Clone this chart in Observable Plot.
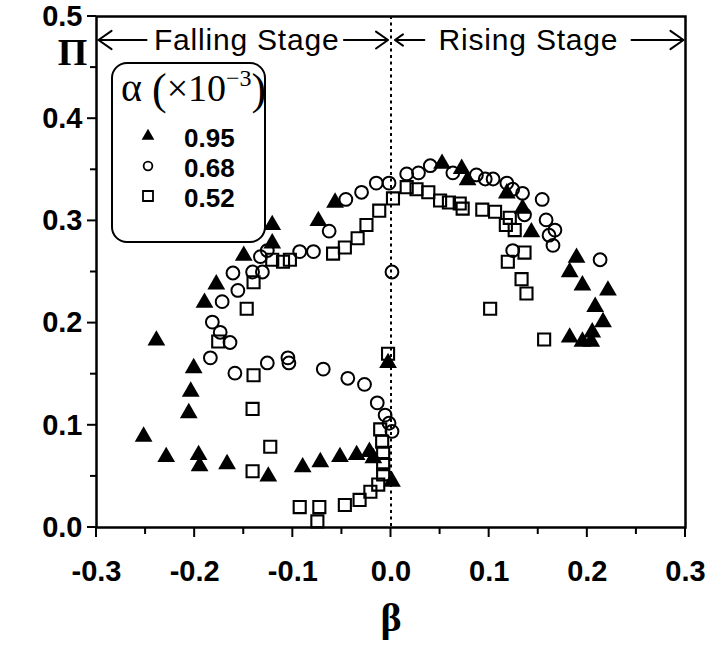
<!DOCTYPE html>
<html><head><meta charset="utf-8">
<script src="https://cdn.jsdelivr.net/npm/d3@7"></script>
<script src="https://cdn.jsdelivr.net/npm/@observablehq/plot@0.6"></script>
<style>
body{margin:0;background:#fff}
#wrap{position:relative;width:709px;height:650px}
#legend{position:absolute;left:0;top:0;pointer-events:none}
</style>
</head><body><div id="wrap"></div>
<script>
// ---- data: alpha = 0.95e-3 (filled triangles)
const a095Beta = [-0.252,-0.239,-0.229,-0.201,-0.204,-0.206,-0.196,-0.195,-0.167,-0.125,-0.090,-0.072,-0.052,-0.035,-0.022,-0.018,0.001,-0.003,-0.190,-0.178,-0.150,-0.121,-0.121,-0.074,-0.057,0.052,0.072,0.078,0.118,0.134,0.143,0.189,0.182,0.195,0.221,0.208,0.216,0.205,0.182,0.195,0.204];
const a095Pi   = [0.089,0.183,0.069,0.156,0.133,0.112,0.071,0.060,0.062,0.050,0.059,0.064,0.069,0.071,0.074,0.068,0.045,0.161,0.220,0.238,0.266,0.278,0.296,0.300,0.318,0.356,0.351,0.340,0.327,0.312,0.289,0.264,0.250,0.237,0.232,0.216,0.201,0.191,0.186,0.182,0.182];
// alpha = 0.68e-3 (open circles)
const a068Beta = [-0.184,-0.159,-0.126,-0.105,-0.104,-0.069,-0.044,-0.027,-0.014,-0.006,-0.002,0.001,0.001,-0.182,-0.174,-0.164,-0.172,-0.156,-0.161,-0.141,-0.131,-0.133,-0.126,-0.093,-0.079,-0.063,-0.046,-0.030,-0.015,-0.002,0.016,0.028,0.040,0.063,0.087,0.096,0.104,0.118,0.124,0.134,0.154,0.136,0.158,0.167,0.161,0.165,0.124,0.213];
const a068Pi   = [0.166,0.151,0.161,0.166,0.161,0.155,0.146,0.140,0.122,0.110,0.102,0.094,0.250,0.201,0.191,0.181,0.221,0.232,0.249,0.250,0.250,0.265,0.271,0.270,0.270,0.290,0.321,0.328,0.337,0.337,0.346,0.347,0.354,0.347,0.345,0.341,0.341,0.337,0.331,0.327,0.321,0.306,0.301,0.291,0.286,0.276,0.271,0.262];
// alpha = 0.52e-3 (open squares)
const a052Beta = [-0.176,-0.140,-0.141,-0.123,-0.141,-0.093,-0.073,-0.075,-0.047,-0.032,-0.021,-0.013,-0.008,-0.008,-0.008,-0.009,-0.011,-0.003,-0.140,-0.147,-0.121,-0.110,-0.103,-0.059,-0.047,-0.034,-0.025,-0.012,0.002,0.016,0.026,0.038,0.050,0.059,0.070,0.073,0.093,0.106,0.121,0.117,0.126,0.136,0.119,0.133,0.138,0.101,0.156];
const a052Pi   = [0.182,0.149,0.116,0.079,0.055,0.020,0.020,0.006,0.022,0.027,0.035,0.042,0.052,0.062,0.073,0.084,0.096,0.170,0.240,0.214,0.262,0.260,0.262,0.268,0.274,0.283,0.296,0.310,0.322,0.333,0.331,0.328,0.320,0.318,0.317,0.312,0.311,0.309,0.303,0.296,0.291,0.269,0.260,0.243,0.229,0.214,0.184];

const legendLabels = ["0.95","0.68","0.52"];
const legendSymbols = ["triangle","circle","square"];

const xMajorTicks = [-0.3,-0.2,-0.1,0.0,0.1,0.2,0.3];
const xTickLabels = ["-0.3","-0.2","-0.1","0.0","0.1","0.2","0.3"];
const xMinorTicks = [-0.25,-0.15,-0.05,0.05,0.15,0.25];
const yMajorTicks = [0.0,0.1,0.2,0.3,0.4,0.5];
const yTickLabels = ["0.0","0.1","0.2","0.3","0.4","0.5"];
const yMinorTicks = [0.05,0.15,0.25,0.35,0.45];

// stage annotations
const stageLabels = ["Falling Stage","Rising Stage"];
const stageCenter = [-0.147, 0.140];
const stageY = 0.477;
const arrowFrom = [-0.249,-0.048,0.034,0.245];
const arrowTo   = [-0.298,-0.003,0.004,0.298];

const mk = (bs, ps) => bs.map((b,i) => ({beta:b, pi:ps[i]}));
const d095 = mk(a095Beta,a095Pi), d068 = mk(a068Beta,a068Pi), d052 = mk(a052Beta,a052Pi);
const fmt = (vals, labs) => d => { const i = vals.findIndex(v => Math.abs(v-d) < 1e-9); return i >= 0 ? labs[i] : ""; };

const stages = stageLabels.map((t,i) => ({t, x: stageCenter[i], y: stageY}));
const arrows = arrowFrom.map((f,i) => ({x1:f, x2:arrowTo[i], y:stageY}));
const xDom = [-0.3, 0.3], yDom = [0, 0.5];

const chart = Plot.plot({
  width: 709, height: 650,
  marginLeft: 96, marginRight: 24, marginTop: 16, marginBottom: 123,
  style: {fontFamily: "'Liberation Sans', Arial, sans-serif", fontSize: "29px", fontWeight: "bold", background: "white", color: "black", overflow: "visible"},
  x: {domain: xDom, ticks: xMajorTicks, tickFormat: fmt(xMajorTicks, xTickLabels), tickSize: 0, tickPadding: 33, label: null},
  y: {domain: yDom, ticks: yMajorTicks, tickFormat: fmt(yMajorTicks, yTickLabels), tickSize: 0, tickPadding: 14, label: null},
  marks: [
    Plot.ruleX([0], {strokeDasharray: "3,3.5", strokeWidth: 2, stroke: "black"}),
    Plot.dot(d068, {x: "beta", y: "pi", symbol: "circle", r: 6.4, stroke: "black", strokeWidth: 2, fill: "none"}),
    Plot.dot(d052, {x: "beta", y: "pi", symbol: "square", r: 6.8, stroke: "black", strokeWidth: 2.1, fill: "none"}),
    Plot.dot(d095, {x: "beta", y: "pi", symbol: "triangle", r: 6.6, fill: "black", stroke: "none"}),
    Plot.arrow(arrows, {x1: "x1", x2: "x2", y1: "y", y2: "y", stroke: "black", strokeWidth: 2, headLength: 12, headAngle: 70}),
    Plot.text(stages, {x: "x", y: "y", text: "t", fontSize: 30, fontWeight: "normal", fill: "black"}),
    Plot.text(["Π"], {frameAnchor: "top-left", textAnchor: "middle", lineAnchor: "middle", dx: -24, dy: 36, fontFamily: "'Liberation Serif', 'Times New Roman', serif", fontSize: 38, fontWeight: "bold"}),
    Plot.text(["β"], {frameAnchor: "bottom", dy: 103, fontFamily: "'Liberation Serif', 'Times New Roman', serif", fontSize: 40, fontWeight: "bold"}),
    Plot.frame({stroke: "black", strokeWidth: 2.5})
  ]
});

const svg = d3.select(chart.tagName.toLowerCase() === "svg" ? chart : chart.querySelector("svg"));
svg.selectAll("text").filter(function(){ return this.textContent.includes("Stage"); }).attr("letter-spacing", 0.8);

// outward tick marks placed with Plot's own scales
const sx = chart.scale("x"), sy = chart.scale("y");
const gT = svg.append("g").attr("stroke", "black").attr("stroke-width", 2);
const y0 = sy.apply(yDom[0]), x0 = sx.apply(xDom[0]);
xMajorTicks.forEach(t => gT.append("line").attr("x1", sx.apply(t)).attr("x2", sx.apply(t)).attr("y1", y0).attr("y2", y0 + 10));
xMinorTicks.forEach(t => gT.append("line").attr("x1", sx.apply(t)).attr("x2", sx.apply(t)).attr("y1", y0).attr("y2", y0 + 7));
yMajorTicks.forEach(t => gT.append("line").attr("y1", sy.apply(t)).attr("y2", sy.apply(t)).attr("x1", x0).attr("x2", x0 - 9));
yMinorTicks.forEach(t => gT.append("line").attr("y1", sy.apply(t)).attr("y2", sy.apply(t)).attr("x1", x0).attr("x2", x0 - 6));

const wrap = document.getElementById("wrap");
wrap.appendChild(chart);

// legend overlay
const lg = d3.select(wrap).append("svg").attr("id","legend").attr("width",709).attr("height",650);
lg.append("rect").attr("x",112).attr("y",63).attr("width",153).attr("height",179).attr("rx",15)
  .attr("fill","white").attr("stroke","black").attr("stroke-width",2);
const title = lg.append("text").attr("x",121).attr("y",101)
  .attr("font-family","'Liberation Serif', 'Times New Roman', serif").attr("font-size",40).attr("fill","black");
title.append("tspan").text("α ");
title.append("tspan").attr("font-size",44).attr("dy",3).text("(");
title.append("tspan").attr("font-size",38).attr("dy",-3).text("×10");
title.append("tspan").attr("font-size",24).attr("dy",-15).text("−3");
title.append("tspan").attr("font-size",44).attr("dy",18).text(")");
const symMap = {triangle: d3.symbolTriangle, circle: d3.symbolCircle, square: d3.symbolSquare};
const symSize = {triangle: 70, circle: 60, square: 100};
legendLabels.forEach((lab, i) => {
  const yb = 147 + i*30;
  const s = legendSymbols[i];
  lg.append("path").attr("d", d3.symbol(symMap[s], symSize[s])())
    .attr("transform", `translate(${148},${yb-11})`)
    .attr("fill", s === "triangle" ? "black" : "none")
    .attr("stroke", s === "triangle" ? "none" : "black").attr("stroke-width", 1.8);
  lg.append("text").attr("x",184).attr("y",yb).text(lab)
    .attr("font-family","'Liberation Sans', Arial, sans-serif").attr("font-size",26).attr("font-weight","bold").attr("fill","black");
});
</script>
</body></html>
